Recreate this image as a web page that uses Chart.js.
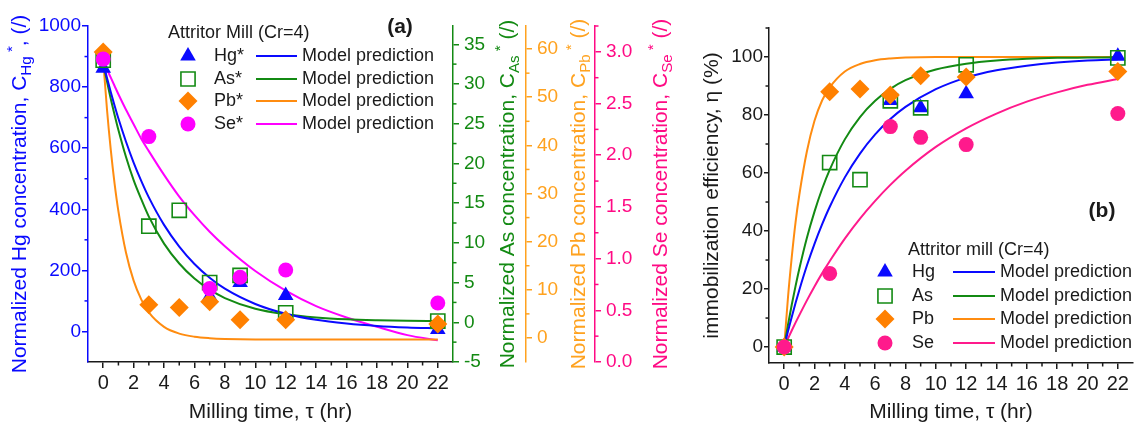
<!DOCTYPE html>
<html>
<head>
<meta charset="utf-8">
<script src="https://cdn.jsdelivr.net/npm/chart.js@4.4.1/dist/chart.umd.min.js"></script>
<style>
  html, body { margin: 0; padding: 0; background: #fff; }
  #wrap { position: relative; width: 1148px; height: 432px; }
  canvas { position: absolute; top: 0; }
  #ca { left: 0; }
  #cb { left: 672px; }
</style>
</head>
<body>
<div id="wrap">
  <canvas id="ca" width="672" height="432"></canvas>
  <canvas id="cb" width="476" height="432"></canvas>
</div>
<script>
// ---------- data ----------
// (a) normalized concentrations, each on its own axis
var timeA = [0, 3, 5, 7, 9, 12, 22];
var timeHg = [0, 7, 9, 12, 22];
var timeSe = [0, 3, 7, 9, 12, 22];
var hgA = [862, 115, 160, 118, 6];
var asA = [33, 12.1, 14.1, 5.0, 5.9, 1.2, 0.15];
var pbA = [59.4, 6.9, 6.3, 7.5, 3.8, 3.8, 2.9];
var seA = [2.93, 2.18, 0.71, 0.82, 0.89, 0.57];

// model curves (a)
var tModel = [0, 0.25, 0.5, 0.75, 1, 1.5, 2, 2.5, 3, 4, 5, 6, 7, 8, 10, 12, 14, 16, 18, 20, 22];
var hgModelA = [879, 830, 783, 739, 697, 621, 553, 493, 439, 349, 278, 221, 176, 140, 90, 58, 38, 26, 18, 13, 10];
var asModelA = [32.6, 30.3, 28.1, 26.1, 24.2, 20.8, 17.9, 15.5, 13.3, 9.9, 7.4, 5.5, 4.1, 3.05, 1.7, 1.0, 0.6, 0.37, 0.25, 0.18, 0.15];
var pbModelA = [57.7, 47.4, 39.0, 32.0, 26.3, 17.7, 11.9, 8.0, 5.3, 2.3, 0.9, 0.25, -0.05, -0.2, -0.3, -0.3, -0.3, -0.3, -0.3, -0.3, -0.3];
var seModelA = [2.92, 2.83, 2.75, 2.67, 2.59, 2.44, 2.30, 2.16, 2.04, 1.81, 1.60, 1.42, 1.26, 1.12, 0.88, 0.69, 0.54, 0.43, 0.34, 0.26, 0.21];

// (b) immobilization efficiency (%)
var hgB = [0, 85, 82.5, 87.3, 100.3];
var asB = [0, 63.6, 57.7, 84.9, 82.5, 97.3, 99.7];
var pbB = [0, 88, 89, 86.9, 93.5, 93.1, 95];
var seB = [0, 25.4, 76, 72.3, 69.8, 80.5];

var hgModelB = [0, 5.4, 10.4, 15.2, 19.7, 28.1, 35.6, 42.3, 48.3, 58.5, 66.7, 73.3, 78.6, 82.8, 88.9, 92.9, 95.4, 97.0, 98.1, 98.8, 99.2];
var asModelB = [0, 7.6, 14.6, 21.0, 27.0, 37.7, 46.7, 54.5, 61.1, 71.6, 79.3, 84.9, 89.0, 92.0, 95.7, 97.7, 98.8, 99.4, 99.7, 99.8, 99.9];
var pbModelB = [0, 17, 31, 43, 52.5, 67.5, 78, 85, 89.5, 95, 97.6, 98.9, 99.5, 99.8, 100, 100, 100, 100, 100, 100, 100];
var seModelB = [0, 2.9, 5.7, 8.4, 11.0, 16.1, 20.9, 25.4, 29.6, 37.4, 44.3, 50.4, 55.9, 60.8, 69.0, 75.4, 80.5, 84.6, 87.8, 90.4, 92.4];

// tick labels
var xTicks = [0, 2, 4, 6, 8, 10, 12, 14, 16, 18, 20, 22];
var xMinor = [1, 3, 5, 7, 9, 11, 13, 15, 17, 19, 21];
var hgTicks = [0, 200, 400, 600, 800, 1000];
var hgMinor = [100, 300, 500, 700, 900];
var asTicks = [-5, 0, 5, 10, 15, 20, 25, 30, 35];
var asMinor = [-2.5, 2.5, 7.5, 12.5, 17.5, 22.5, 27.5, 32.5];
var pbTicks = [0, 10, 20, 30, 40, 50, 60];
var pbMinor = [5, 15, 25, 35, 45, 55];
var seTicks = [0, 0.5, 1.0, 1.5, 2.0, 2.5, 3.0];
var seMinor = [0.25, 0.75, 1.25, 1.75, 2.25, 2.75, 3.25];
var effTicks = [0, 20, 40, 60, 80, 100];
var effMinor = [10, 30, 50, 70, 90, 110];

// ---------- colours ----------
var BLUE = '#0a0aff', GREEN = '#138a13', ORANGE = '#ff8000', ORANGE_AX = '#ffa21f';
var MAGENTA = '#ff00ff', PINK = '#ff0a84', INK = '#1a1a1a';

Chart.defaults.font.family = "'Liberation Sans', Arial, sans-serif";

function xy(xs, ys) {
    return ys.map(function (v, i) { return { x: xs[i], y: v }; });
}

function pts(label, xs, ys, axis, style, r, color, hollow, order) {
    return {
        label: label, data: xy(xs, ys), yAxisID: axis, showLine: false, order: order,
        pointStyle: style, pointRadius: r, pointHoverRadius: r,
        pointBackgroundColor: hollow ? 'rgba(0,0,0,0)' : color,
        pointBorderColor: color, pointBorderWidth: hollow ? 1.6 : 0
    };
}

function model(label, ys, axis, color) {
    return {
        label: label, data: xy(tModel, ys), yAxisID: axis, showLine: true, order: 20,
        borderColor: color, borderWidth: 2, pointRadius: 0, fill: false,
        cubicInterpolationMode: 'monotone'
    };
}

function fixedTicks(list) {
    return function (s) { s.ticks = list.map(function (v) { return { value: v }; }); };
}

function xScale(height) {
    return {
        type: 'linear', position: 'bottom', min: -1, max: 23,
        afterBuildTicks: fixedTicks(xTicks),
        afterFit: function (s) { s.height = height; },
        ticks: { font: { size: 20 }, color: INK, padding: 3, maxRotation: 0, autoSkip: false,
                 callback: function (v) { return String(v); } },
        grid: { drawOnChartArea: false, tickLength: 6, color: INK, lineWidth: 1.5 },
        border: { color: INK, width: 1.5 },
        title: { display: true, text: 'Milling time, \u03c4 (hr)', color: INK,
                 font: { size: 21 }, padding: { top: 0, bottom: 7 } }
    };
}

function yScale(pos, min, max, ticks, color, width, weight, fmt, tickLen, pad) {
    return {
        type: 'linear', position: pos, min: min, max: max, weight: weight,
        afterBuildTicks: fixedTicks(ticks),
        afterFit: function (s) { s.width = width; },
        ticks: { font: { size: 19 }, color: color, padding: pad, autoSkip: false,
                 callback: fmt || function (v) { return String(v); } },
        grid: { drawOnChartArea: false, tickLength: tickLen, color: color, lineWidth: 1.5 },
        border: { color: color, width: 1.5 }
    };
}

// ---------- drawing helpers ----------
function marker(ctx, style, x, y, r, color, hollow) {
    ctx.save();
    ctx.beginPath();
    if (style === 'triangle') {
        ctx.moveTo(x, y - r);
        ctx.lineTo(x + 0.866 * r, y + 0.5 * r);
        ctx.lineTo(x - 0.866 * r, y + 0.5 * r);
        ctx.closePath();
    } else if (style === 'rect') {
        var h = r * Math.SQRT1_2;
        ctx.rect(x - h, y - h, 2 * h, 2 * h);
    } else if (style === 'rectRot') {
        ctx.moveTo(x - r, y); ctx.lineTo(x, y - r); ctx.lineTo(x + r, y); ctx.lineTo(x, y + r);
        ctx.closePath();
    } else {
        ctx.arc(x, y, r, 0, Math.PI * 2);
    }
    if (hollow) { ctx.strokeStyle = color; ctx.lineWidth = 1.6; ctx.stroke(); }
    else { ctx.fillStyle = color; ctx.fill(); }
    ctx.restore();
}

function richText(ctx, parts, cx, cy, size, color) {
    ctx.save();
    ctx.translate(cx, cy);
    ctx.rotate(-Math.PI / 2);
    ctx.fillStyle = color;
    ctx.textBaseline = 'alphabetic';
    var total = 0;
    parts.forEach(function (p) {
        ctx.font = ((p.sub || p.sup) ? size * 0.72 : size) + "px 'Liberation Sans', Arial, sans-serif";
        p.w = ctx.measureText(p.t).width;
        total += p.w;
    });
    var x = -total / 2, base = size * 0.36;
    parts.forEach(function (p) {
        ctx.font = ((p.sub || p.sup) ? size * 0.72 : size) + "px 'Liberation Sans', Arial, sans-serif";
        var dy = p.sub ? size * 0.28 : (p.sup ? -size * 0.42 : 0);
        ctx.fillText(p.t, x, base + dy);
        x += p.w;
    });
    ctx.restore();
}

function concTitle(el) {
    return [{ t: 'Normalized ' + el + ' concentration, C' }, { t: el, sub: true },
            { t: ' *', sup: true }, { t: el === 'Hg' ? ', (/)' : ' (/)' }];
}

// minor ticks, rotated axis titles, legend, panel letter
var decor = {
    id: 'decor',
    afterDraw: function (chart, args, o) {
        var ctx = chart.ctx;
        (o.minor || []).forEach(function (m) {
            var s = chart.scales[m.id];
            ctx.save();
            ctx.strokeStyle = s.options.border.color;
            ctx.lineWidth = 1.5;
            m.values.forEach(function (v) {
                if (v < s.min || v > s.max) return;
                var p = s.getPixelForValue(v);
                ctx.beginPath();
                if (s.position === 'bottom') { ctx.moveTo(p, s.top); ctx.lineTo(p, s.top + 3.5); }
                else if (s.position === 'left') { ctx.moveTo(s.right, p); ctx.lineTo(s.right - 3.5, p); }
                else { ctx.moveTo(s.left, p); ctx.lineTo(s.left + 3.5, p); }
                ctx.stroke();
            });
            ctx.restore();
        });
        var midY = (chart.chartArea.top + chart.chartArea.bottom) / 2;
        (o.titles || []).forEach(function (t) {
            richText(ctx, t.parts, t.x, midY, 21, t.color);
        });
        var L = o.legend;
        if (L) {
            ctx.save();
            ctx.font = "18px 'Liberation Sans', Arial, sans-serif";
            ctx.textBaseline = 'middle';
            ctx.fillStyle = INK;
            ctx.fillText(L.title, L.titleX, L.titleY);
            L.rows.forEach(function (r, i) {
                var y = L.ys[i];
                marker(ctx, r.style, L.markX, y, r.r, r.color, r.hollow);
                ctx.fillStyle = INK;
                ctx.fillText(r.label, L.labelX, y);
                ctx.strokeStyle = r.line;
                ctx.lineWidth = 2;
                ctx.beginPath(); ctx.moveTo(L.lineX0, y); ctx.lineTo(L.lineX1, y); ctx.stroke();
                ctx.fillText('Model prediction', L.textX, y);
            });
            ctx.restore();
        }
        if (o.letter) {
            ctx.save();
            ctx.font = "bold 21px 'Liberation Sans', Arial, sans-serif";
            ctx.textAlign = 'center';
            ctx.textBaseline = 'middle';
            ctx.fillStyle = INK;
            ctx.fillText(o.letter.t, o.letter.x, o.letter.y);
            ctx.restore();
        }
    }
};

// ---------- (a) ----------
new Chart(document.getElementById('ca'), {
    type: 'scatter',
    data: {
        datasets: [
            model('Hg model', hgModelA, 'yHg', BLUE),
            model('As model', asModelA, 'yAs', GREEN),
            model('Pb model', pbModelA, 'yPb', '#ff8c10'),
            model('Se model', seModelA, 'ySe', MAGENTA),
            pts('Hg*', timeHg, hgA, 'yHg', 'triangle', 9, BLUE, false, 4),
            pts('As*', timeA, asA, 'yAs', 'rect', 10, GREEN, true, 3),
            pts('Pb*', timeA, pbA, 'yPb', 'rectRot', 9.5, ORANGE, false, 2),
            pts('Se*', timeSe, seA, 'ySe', 'circle', 7.5, MAGENTA, false, 1)
        ]
    },
    options: {
        responsive: false, animation: false, events: [],
        layout: { padding: { top: 26, left: 0, right: 0, bottom: 0 } },
        plugins: {
            legend: { display: false }, tooltip: { enabled: false },
            decor: {
                minor: [{ id: 'x', values: xMinor }, { id: 'yHg', values: hgMinor },
                        { id: 'yAs', values: asMinor }, { id: 'yPb', values: pbMinor },
                        { id: 'ySe', values: seMinor }],
                titles: [{ x: 18, parts: concTitle('Hg'), color: BLUE },
                         { x: 506, parts: concTitle('As'), color: GREEN },
                         { x: 577, parts: concTitle('Pb'), color: ORANGE_AX },
                         { x: 659, parts: concTitle('Se'), color: PINK }],
                legend: {
                    title: 'Attritor Mill (Cr=4)', titleX: 168, titleY: 33,
                    ys: [56, 79, 101, 124], markX: 188, labelX: 214, lineX0: 256, lineX1: 297, textX: 302,
                    rows: [{ label: 'Hg*', style: 'triangle', r: 9, color: BLUE, line: BLUE },
                           { label: 'As*', style: 'rect', r: 10, color: GREEN, hollow: true, line: GREEN },
                           { label: 'Pb*', style: 'rectRot', r: 9.5, color: ORANGE, line: '#ff8c10' },
                           { label: 'Se*', style: 'circle', r: 7.5, color: MAGENTA, line: MAGENTA }]
                },
                letter: { t: '(a)', x: 400, y: 27 }
            }
        },
        scales: {
            x: xScale(70),
            yHg: yScale('left', -100, 1000, hgTicks, BLUE, 88, 0, null, 6, 1),
            yAs: yScale('right', -5, 37.3, asTicks, GREEN, 73, 1, null, 6, 5),
            yPb: yScale('right', -5, 64.8, pbTicks, ORANGE_AX, 69, 2, null, 6, 5),
            ySe: yScale('right', 0, 3.25, seTicks, PINK, 77, 3, function (v) { return v.toFixed(1); }, 6, 5)
        }
    },
    plugins: [decor]
});

// ---------- (b) ----------
var SEB = '#ff1a8c';
new Chart(document.getElementById('cb'), {
    type: 'scatter',
    data: {
        datasets: [
            model('Hg model', hgModelB, 'y', BLUE),
            model('As model', asModelB, 'y', GREEN),
            model('Pb model', pbModelB, 'y', '#ff8c10'),
            model('Se model', seModelB, 'y', SEB),
            pts('Hg', timeHg, hgB, 'y', 'triangle', 9, BLUE, false, 4),
            pts('As', timeA, asB, 'y', 'rect', 10, GREEN, true, 3),
            pts('Pb', timeA, pbB, 'y', 'rectRot', 9.5, ORANGE, false, 2),
            pts('Se', timeSe, seB, 'y', 'circle', 7.5, SEB, false, 1)
        ]
    },
    options: {
        responsive: false, animation: false, events: [],
        layout: { padding: { top: 28, left: 0, right: 15, bottom: 0 } },
        plugins: {
            legend: { display: false }, tooltip: { enabled: false },
            decor: {
                minor: [{ id: 'x', values: xMinor }, { id: 'y', values: effMinor }],
                titles: [{ x: 38, parts: [{ t: 'immobilization efficiency, \u03b7 (%)' }], color: INK }],
                legend: {
                    title: 'Attritor mill (Cr=4)', titleX: 236, titleY: 250,
                    ys: [272, 296, 319, 343], markX: 213, labelX: 240, lineX0: 281, lineX1: 323, textX: 328,
                    rows: [{ label: 'Hg', style: 'triangle', r: 9, color: BLUE, line: BLUE },
                           { label: 'As', style: 'rect', r: 10, color: GREEN, hollow: true, line: GREEN },
                           { label: 'Pb', style: 'rectRot', r: 9.5, color: ORANGE, line: '#ff8c10' },
                           { label: 'Se', style: 'circle', r: 7.5, color: SEB, line: SEB }]
                },
                letter: { t: '(b)', x: 430, y: 211 }
            }
        },
        scales: {
            x: xScale(69),
            y: yScale('left', -5.5, 110, effTicks, INK, 97, 0, null, 5, 1)
        }
    },
    plugins: [decor]
});
</script>
</body>
</html>
